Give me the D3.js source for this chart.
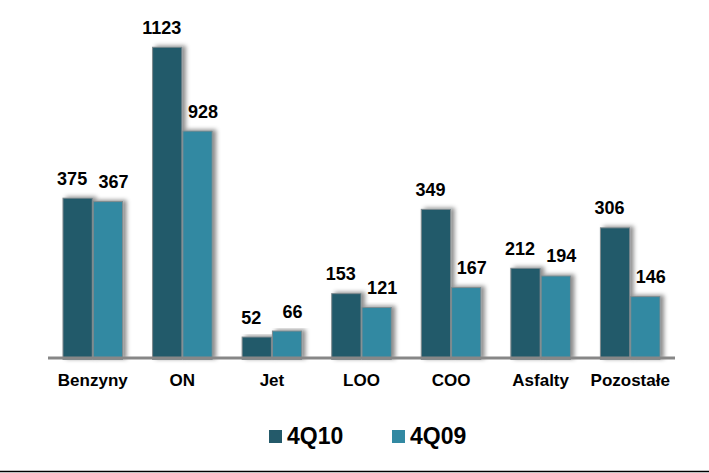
<!DOCTYPE html>
<html>
<head>
<meta charset="utf-8">
<script src="https://cdn.jsdelivr.net/npm/d3@7"></script>
<style>
	html, body { margin:0; padding:0; background:#fff; }
	svg { display:block; font-family:"Liberation Sans", Arial, sans-serif; }
</style>
</head>
<body>
<svg id="chart" width="709" height="473"></svg>
<script>
var	categories	= ["Benzyny", "ON", "Jet", "LOO", "COO", "Asfalty", "Pozostałe"],
	seriesNames	= ["4Q10", "4Q09"],
	values4Q10	= [375, 1123, 52, 153, 349, 212, 306],
	values4Q09	= [367, 928, 66, 121, 167, 194, 146],
	seriesColors	= ["#245a6a", "#3289a2"];

var	svg	= d3.select("#chart"),
	W	= 709, H = 473,
	y0	= 359.4, k = 0.430,
	brkFrom	= 400, brkTo = 797;

var	rows	= categories.map(function(c, i) { return {cat:c, vals:[values4Q10[i], values4Q09[i]]}; });

var	x	= d3.scaleBand().domain(categories).range([48, 675]).padding(0),
	x1	= d3.scaleBand().domain(seriesNames).range([0, x.bandwidth()]).paddingInner(0).paddingOuter(0.478),
	// broken axis: the span brkFrom..brkTo is cut out (ON bars)
	y	= d3.scaleLinear().domain([0, brkFrom, brkTo, 1200])
			.range([y0, y0 - k*brkFrom, y0 - k*brkFrom, y0 - k*(brkFrom + 1200 - brkTo)]);

var	defs	= svg.append("defs");
var	flt	= defs.append("filter").attr("id", "shadow").attr("x", "-20%").attr("y", "-10%").attr("width", "160%").attr("height", "130%");
flt.append("feDropShadow").attr("dx", 3.5).attr("dy", -1).attr("stdDeviation", 2.2)
	.attr("flood-color", "#000").attr("flood-opacity", 0.45);

var	groups	= svg.append("g").selectAll("g.grp").data(rows).enter().append("g").attr("class", "grp")
		.attr("transform", function(d) { return "translate(" + x(d.cat) + ",0)"; });

function pairs(d) { return d.vals.map(function(v, j) { return {v:v, s:seriesNames[j], j:j}; }); }

groups.selectAll("rect").data(pairs)
	.enter().append("rect")
	.attr("x", function(d) { return x1(d.s) + 0.5; })
	.attr("y", function(d) { return y(d.v); })
	.attr("width", x1.bandwidth() - 1)
	.attr("height", function(d) { return y0 - y(d.v); })
	.attr("fill", function(d) { return seriesColors[d.j]; })
	.attr("stroke", "#7f8a8e").attr("stroke-width", 1)
	.attr("filter", "url(#shadow)");

groups.selectAll("text.val").data(pairs)
	.enter().append("text").attr("class", "val")
	.attr("x", function(d) { return x1(d.s) + x1.bandwidth()/2 + (d.j == 0 ? -5.5 : 5.5); })
	.attr("y", function(d) { return y(d.v) - 13.5; })
	.attr("text-anchor", "middle")
	.style("font-size", "18px").style("font-weight", "bold").style("fill", "#000")
	.text(function(d) { return d.v; });

// axis line
svg.append("line").attr("x1", x.range()[0]).attr("x2", x.range()[1]).attr("y1", y0 - 1.5).attr("y2", y0 - 1.5)
	.attr("stroke", "#878787").attr("stroke-width", 3);

var	xAxis	= svg.append("g").attr("transform", "translate(0," + y0 + ")")
		.call(d3.axisBottom(x).tickSize(0).tickPadding(14.5));
xAxis.select(".domain").remove();
xAxis.selectAll("text").style("font-size", "17px").style("font-weight", "bold")
	.style("font-family", "'Liberation Sans', Arial, sans-serif").attr("fill", "#000");

// legend
var	legX	= [269, 392],
	leg	= svg.append("g").selectAll("g").data(seriesNames).enter().append("g")
		.attr("transform", function(d, i) { return "translate(" + legX[i] + ",430)"; });
leg.append("rect").attr("width", 13).attr("height", 13).attr("fill", function(d, i) { return seriesColors[i]; });
leg.append("text").attr("x", 18).attr("y", 13.5).style("font-size", "23px").style("font-weight", "bold")
	.style("fill", "#000").text(function(d) { return d; });

// bottom rule
svg.append("line").attr("x1", 0).attr("x2", W).attr("y1", 471.5).attr("y2", 471.5)
	.attr("stroke", "#000").attr("stroke-width", 1.5);
</script>
</body>
</html>
